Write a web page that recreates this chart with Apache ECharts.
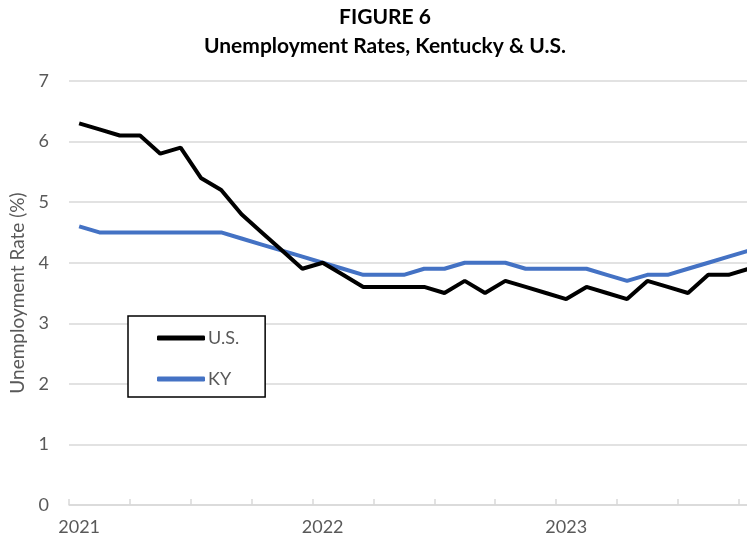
<!DOCTYPE html>
<html>
<head>
<meta charset="utf-8">
<script src="https://cdn.jsdelivr.net/npm/echarts@6/dist/echarts.min.js"></script>
<style>
html,body{margin:0;padding:0;background:#fff;overflow:hidden;width:747px;height:541px;}
#chart{width:760px;height:541px;}
</style>
</head>
<body>
<div id="chart"></div>
<script>
// Monthly categories, Jan 2021 – Oct 2023
var months = [
  "2021-01","2021-02","2021-03","2021-04","2021-05","2021-06","2021-07","2021-08","2021-09","2021-10","2021-11","2021-12",
  "2022-01","2022-02","2022-03","2022-04","2022-05","2022-06","2022-07","2022-08","2022-09","2022-10","2022-11","2022-12",
  "2023-01","2023-02","2023-03","2023-04","2023-05","2023-06","2023-07","2023-08","2023-09","2023-10"
];
var usRate = [6.3,6.2,6.1,6.1,5.8,5.9,5.4,5.2,4.8,4.5,4.2,3.9,
              4.0,3.8,3.6,3.6,3.6,3.6,3.5,3.7,3.5,3.7,3.6,3.5,
              3.4,3.6,3.5,3.4,3.7,3.6,3.5,3.8,3.8,3.9];
var kyRate = [4.6,4.5,4.5,4.5,4.5,4.5,4.5,4.5,4.4,4.3,4.2,4.1,
              4.0,3.9,3.8,3.8,3.8,3.9,3.9,4.0,4.0,4.0,3.9,3.9,
              3.9,3.9,3.8,3.7,3.8,3.8,3.9,4.0,4.1,4.2];
var yearLabels = {"2021-01":"2021","2022-01":"2022","2023-01":"2023"};

var FONT = 'Lato, "Open Sans", sans-serif';
var chart = echarts.init(document.getElementById('chart'), null, {renderer:'canvas'});
chart.setOption({
  animation:false,
  backgroundColor:'#fff',
  textStyle:{fontFamily:FONT},
  title:{
    text:'FIGURE 6\nUnemployment Rates, Kentucky & U.S.',
    left:380, top:-2, textAlign:'center',
    textStyle:{fontFamily:FONT, fontSize:21, fontWeight:'bold', color:'#000', lineHeight:29}
  },
  legend:{
    orient:'vertical',
    left:128, top:316,
    padding:[13,26,9,29],
    itemGap:23,
    itemWidth:48, itemHeight:5,
    icon:'roundRect',
    borderColor:'#000', borderWidth:1.5,
    backgroundColor:'#fff',
    textStyle:{fontFamily:FONT, fontSize:18, color:'#595959', padding:[0,0,0,-2]},
    data:['U.S.','KY']
  },
  grid:{left:67, top:81, height:424, width:692},
  xAxis:{
    type:'category',
    data:months,
    boundaryGap:true,
    axisLine:{lineStyle:{color:'#d9d9d9', width:1.5}},
    axisTick:{show:true, inside:true, length:6, interval:2, lineStyle:{color:'#d9d9d9', width:1.5}},
    axisLabel:{
      interval:function(i,v){return !!yearLabels[v];},
      formatter:function(v){return yearLabels[v]||'';},
      fontFamily:FONT, fontSize:18, color:'#595959', margin:13
    },
    splitLine:{show:false}
  },
  yAxis:{
    type:'value', min:0, max:7, interval:1,
    name:'Unemployment Rate (%)',
    nameLocation:'middle', nameGap:42, nameRotate:90,
    nameTextStyle:{fontFamily:FONT, fontSize:19, color:'#595959'},
    axisLine:{show:false}, axisTick:{show:false},
    axisLabel:{fontFamily:FONT, fontSize:18, color:'#595959', margin:20},
    splitLine:{lineStyle:{color:'#d9d9d9', width:1.5}}
  },
  series:[
    {name:'U.S.', type:'line', data:usRate, symbol:'none', lineStyle:{color:'#000', width:4}, itemStyle:{color:'#000'}, z:3},
    {name:'KY', type:'line', data:kyRate, symbol:'none', lineStyle:{color:'#4472C4', width:4}, itemStyle:{color:'#4472C4'}, z:2}
  ]
});
</script>
</body>
</html>
